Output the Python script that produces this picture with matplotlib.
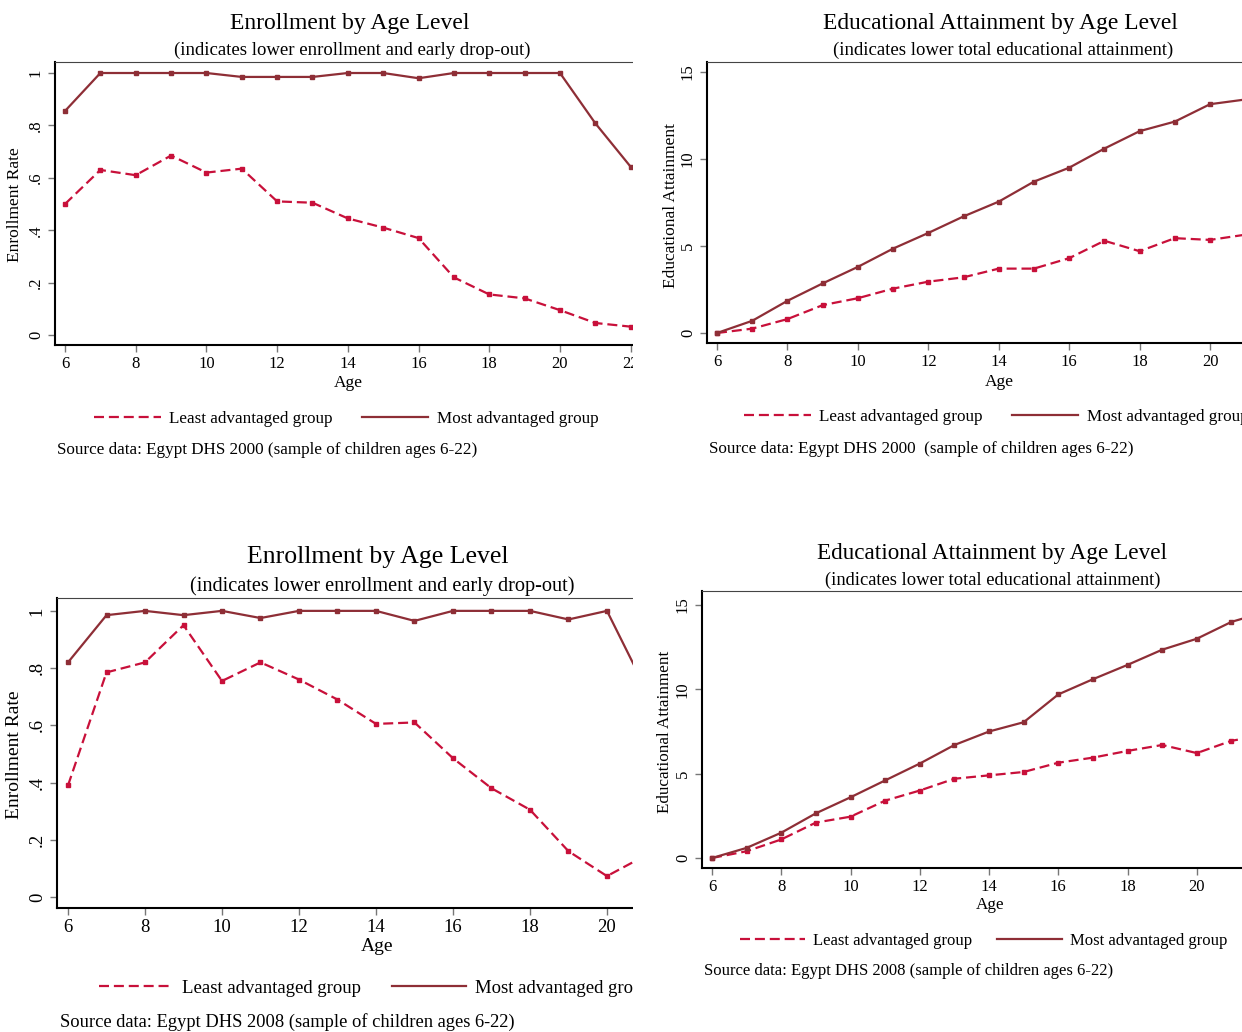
import matplotlib
matplotlib.use('Agg')
import matplotlib.pyplot as plt
from matplotlib.patches import Rectangle

W, H = 1242, 1032
plt.rcParams['font.family'] = ['Liberation Serif', 'DejaVu Serif']

# ---- data ----
ages = list(range(6, 23))

enroll00_least = [0.50, 0.63, 0.61, 0.685, 0.62, 0.635, 0.51, 0.505, 0.445,
                  0.41, 0.37, 0.22, 0.155, 0.14, 0.095, 0.046, 0.032]
enroll00_most = [0.855, 1.0, 1.0, 1.0, 1.0, 0.985, 0.985, 0.985, 1.0,
                 1.0, 0.98, 1.0, 1.0, 1.0, 1.0, 0.808, 0.642]

attain00_least = [0.0, 0.25, 0.8, 1.6, 2.0, 2.55, 2.95, 3.2, 3.7,
                  3.7, 4.3, 5.3, 4.7, 5.45, 5.35, 5.65, 6.0]
attain00_most = [0.0, 0.7, 1.85, 2.85, 3.8, 4.85, 5.75, 6.7, 7.55,
                 8.7, 9.5, 10.6, 11.6, 12.15, 13.15, 13.42, 13.9]

enroll08_least = [0.39, 0.785, 0.82, 0.95, 0.755, 0.82, 0.76, 0.69, 0.605,
                  0.61, 0.485, 0.38, 0.305, 0.16, 0.073, 0.145, 0.2]
enroll08_most = [0.82, 0.985, 1.0, 0.985, 1.0, 0.975, 1.0, 1.0, 1.0,
                 0.965, 1.0, 1.0, 1.0, 0.97, 1.0, 0.73, 0.6]

attain08_least = [0.0, 0.4, 1.1, 2.1, 2.45, 3.4, 4.0, 4.7, 4.9,
                  5.1, 5.65, 5.95, 6.35, 6.7, 6.22, 6.95, 7.3]
attain08_most = [0.0, 0.6, 1.5, 2.65, 3.6, 4.6, 5.6, 6.7, 7.5,
                 8.05, 9.7, 10.6, 11.45, 12.35, 13.0, 14.0, 14.6]

x_ticks_full = [6, 8, 10, 12, 14, 16, 18, 20, 22]
x_ticks_cut = [6, 8, 10, 12, 14, 16, 18, 20]
enroll_ticks = [0, 0.2, 0.4, 0.6, 0.8, 1.0]
enroll_labels = ['0', '.2', '.4', '.6', '.8', '1']
attain_ticks = [0, 5, 10, 15]
attain_labels = ['0', '5', '10', '15']

least_color = '#c8103a'
most_color = '#8e2e36'

fig = plt.figure(figsize=(W / 100, H / 100), dpi=100)


def fx(px):
    return px / W


def fy(py):
    return 1 - py / H


def panel(box, xlim, xticks, ylim, least, most, yticks, ylabels, ylab, title, sub,
          title_pos, sub_pos, ylab_pos, age_pos, leg_pos, src, src_pos, fs):
    l, t, r, b = box
    ax = fig.add_axes([fx(l), fy(b), fx(r - l), (b - t) / H])
    ax.plot(ages, least, color=least_color, lw=1.6, dashes=(4.5, 2.2),
            marker='s', ms=2.2, label='Least advantaged group')
    ax.plot(ages, most, color=most_color, lw=1.6,
            marker='s', ms=2.2, label='Most advantaged group')
    ax.set_xlim(xlim)
    ax.set_ylim(ylim)
    ax.set_xticks(xticks)
    ax.set_yticks(yticks)
    ax.set_yticklabels(ylabels, rotation=90, va='center')
    ax.tick_params(direction='out', length=5, width=1, color='#777777',
                   labelsize=fs['tick'], pad=3)
    ax.spines['right'].set_visible(False)
    for s in ['left', 'bottom']:
        ax.spines[s].set_linewidth(1.5)
    ax.spines['top'].set_color('#444444')
    ax.set_ylabel(ylab, fontsize=fs['lab'])
    ax.yaxis.set_label_coords(fx(ylab_pos[0]), fy(ylab_pos[1]), transform=fig.transFigure)
    ax.set_xlabel('Age', fontsize=fs['lab'])
    ax.xaxis.set_label_coords(fx(age_pos[0]), fy(age_pos[1]), transform=fig.transFigure)
    fig.text(fx(title_pos[0]), fy(title_pos[1]), title, ha='center', va='center',
             fontsize=fs['title'])
    fig.text(fx(sub_pos[0]), fy(sub_pos[1]), sub, ha='center', va='center',
             fontsize=fs['sub'])
    leg = ax.legend(loc='center left', bbox_to_anchor=(fx(leg_pos[0]), fy(leg_pos[1])),
                    bbox_transform=fig.transFigure, ncol=2, frameon=False,
                    fontsize=fs['leg'], handlelength=3.9, handletextpad=0.5,
                    columnspacing=fs.get('colsp', 1.7), borderpad=0, borderaxespad=0)
    for ln in leg.get_lines():
        ln.set_marker('')
    fig.text(fx(src_pos[0]), fy(src_pos[1]), src, ha='left', va='center',
             fontsize=fs['src'])
    return ax


fs_tl = dict(title=17, sub=13.5, tick=12, lab=12.5, leg=12.3, src=12.3)
fs_tr = dict(title=16.9, sub=13.5, tick=12, lab=12.5, leg=12.3, src=12.3)
fs_bl = dict(title=18.5, sub=14.6, tick=13.5, lab=14, leg=13.5, src=13.3)
fs_br = dict(title=16.7, sub=13.3, tick=12, lab=12.3, leg=12.0, src=12.0, colsp=1.45)

panel((55, 62, 642, 345), (5.717, 22.32), x_ticks_full, (-0.038, 1.042),
      enroll00_least, enroll00_most, enroll_ticks, enroll_labels,
      'Enrollment Rate', 'Enrollment by Age Level',
      '(indicates lower enrollment and early drop-out)',
      (350, 23), (352, 50), (23, 205), (348, 375), (94, 419),
      'Source data: Egypt DHS 2000 (sample of children ages 6-22)', (57, 450), fs_tl)

panel((707, 62, 1290, 343), (5.716, 22.27), x_ticks_cut, (-0.575, 15.575),
      attain00_least, attain00_most, attain_ticks, attain_labels,
      'Educational Attainment', 'Educational Attainment by Age Level',
      '(indicates lower total educational attainment)',
      (1000, 23), (1003, 50), (679, 205), (999, 374), (744, 417),
      'Source data: Egypt DHS 2000  (sample of children ages 6-22)', (709, 449), fs_tr)

panel((57, 598, 642, 908), (5.714, 20.91), x_ticks_cut, (-0.0385, 1.045),
      enroll08_least, enroll08_most, enroll_ticks, enroll_labels,
      'Enrollment Rate', 'Enrollment by Age Level',
      '(indicates lower enrollment and early drop-out)',
      (378, 557), (382, 586), (23, 755), (377, 938), (99, 988),
      'Source data: Egypt DHS 2008 (sample of children ages 6-22)', (60, 1022), fs_bl)

panel((702, 591, 1290, 868), (5.711, 22.69), x_ticks_cut, (-0.593, 15.83),
      attain08_least, attain08_most, attain_ticks, attain_labels,
      'Educational Attainment', 'Educational Attainment by Age Level',
      '(indicates lower total educational attainment)',
      (992, 554), (993, 580), (673, 732), (990, 897), (740, 941),
      'Source data: Egypt DHS 2008 (sample of children ages 6-22)', (704, 971), fs_br)

# the left panels are cut off at their right edge, as in the source image
fig.add_artist(Rectangle((fx(633), 0), fx(652) - fx(633), 1, transform=fig.transFigure,
                         facecolor='white', edgecolor='none', zorder=50))

fig.savefig('out.png', dpi=100)
